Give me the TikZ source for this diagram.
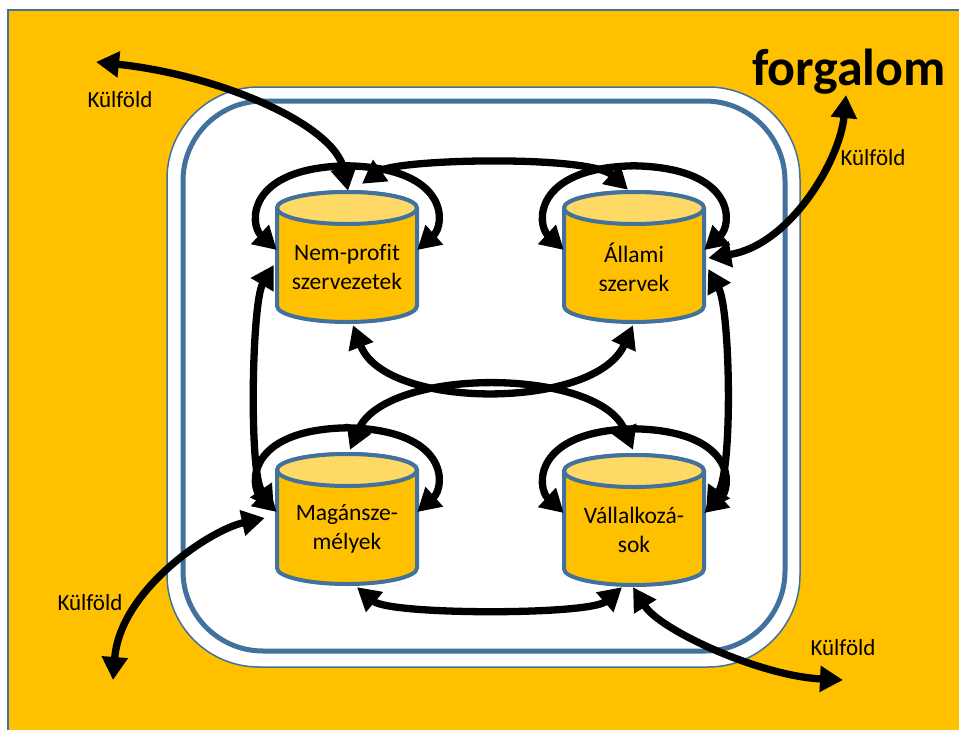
\documentclass[tikz,border=0pt]{standalone}
\usepackage{fontspec}
\setmainfont{Carlito}[Ligatures={NoCommon}]
\usetikzlibrary{arrows.meta,calc}
\definecolor{gold}{HTML}{FFC000}
\definecolor{lightgold}{HTML}{FFD966}
\definecolor{steel}{HTML}{41719C}
\tikzset{
  flow/.style={line width=7.3pt, black, {Triangle[length=23pt,width=25pt]}-{Triangle[length=23pt,width=25pt]}},
  cylbox/.style={minimum width=140pt, minimum height=130pt, inner sep=0pt, draw=none},
  cyltext/.style={align=center, font=\fontsize{23.5}{29}\selectfont, text=black},
  ktext/.style={font=\fontsize{23}{27}\selectfont, text=black, anchor=base},
  cylshape/.style={fill=gold, draw=steel, line width=4pt, line join=round},
  cyltop/.style={fill=lightgold, draw=steel, line width=4pt},
}
\newcommand\mycyl[4]{%
  \path[cylshape] (#1-70,#2-49) -- (#1-70,#2+49)
     arc[start angle=180,end angle=360,x radius=70pt,y radius=16pt]
     -- (#1+70,#2-49)
     arc[start angle=0,end angle=180,x radius=70pt,y radius=16pt] -- cycle;
  \path[cyltop] (#1,#2-49) ellipse[x radius=70pt,y radius=16pt];
  \node[cylbox] (#3) at (#1,#2) {};
  \node[cyltext] (#3t) at (#1,#2+10) {#4};
}
\newcommand\selfloop[1]{%
  \draw[flow] ($(#1.west)+(0,-7)$) .. controls +(-27,-25) and +(-102,2) ..
     ($(#1.north)+(0,-26)$) .. controls +(103,2) and +(28,-25) ..
     ($(#1.east)+(0,-7)$);
}
\begin{document}
\begin{tikzpicture}[x=1pt,y=-1pt]
\useasboundingbox (0,0) rectangle (959,729);
\clip (0,0) rectangle (959,729);
\fill[white] (0,0) rectangle (959,729);
% frame
\path[fill=gold, draw=steel, line width=1.5pt] (8,10) rectangle (975,745);
\path[fill=white, draw=steel, line width=1.5pt, rounded corners=92pt] (167,87) rectangle (800,667);
\path[draw=steel, line width=5pt, rounded corners=80pt] (183,101) rectangle (785,651);
% cylinders
\mycyl{347}{257}{np}{Nem-profit\\szervezetek}
\mycyl{634}{257}{al}{Állami\\szervek}
\mycyl{347}{519}{ma}{Magánsze-\\mélyek}
\mycyl{634}{520}{va}{Vállalkozá-\\sok}
% texts
\node[anchor=base, font=\bfseries\fontsize{52}{60}\selectfont] (title) at (849,85) {forgalom};
\node[ktext] (kTL) at (120,107) {Külföld};
\node[ktext] (kTR) at (873,165) {Külföld};
\node[ktext] (kBL) at (90,610) {Külföld};
\node[ktext] (kBR) at (843,655) {Külföld};
\coordinate (eTL) at (96,62);
\coordinate (eTR) at (846,95);
\coordinate (eBL) at (113,680);
\coordinate (eBR) at (843,680);
% self loops
\selfloop{np}
\selfloop{al}
\selfloop{ma}
\selfloop{va}
% connections between sectors
\draw[flow] ($(np.north)+(15,-8)$) .. controls +(35,-25) and +(-38,-35) .. ($(al.north)+(-6,-2)$);
\draw[flow] ($(np.west)+(-3,8)$) .. controls +(-22,37) and +(-25,-37) .. ($(ma.west)+(-3,-10)$);
\draw[flow] ($(al.east)+(4,12)$) .. controls +(22,40) and +(27,-40) .. ($(va.east)+(2,-10)$);
\draw[flow] ($(np.south)+(6,3)$) .. controls +(32,85) and +(-38,85) .. ($(al.south)+(-1,3)$);
\draw[flow] ($(ma.north)+(3,-4)$) .. controls +(35,-83) and +(-35,-83) .. ($(va.north)+(-1,-5)$);
\draw[flow] ($(ma.south)+(10,3)$) .. controls +(33,28) and +(-32,28) .. ($(va.south)+(-12,2)$);
% foreign connections
\draw[flow] (eTL) .. controls +(124,13) and +(-13,-66) .. ($(np.north)+(1,-1)$);
\draw[flow] ($(al.east)+(4,1)$) .. controls +(82,-13) and +(-6,65) .. (eTR);
\draw[flow] ($(ma.west)+(-12,-1)$) .. controls +(-55,12) and +(7,-90) .. (eBL);
\draw[flow] ($(va.south)+(-1,2)$) .. controls +(27,43) and +(-83,-4) .. (eBR);
\end{tikzpicture}
\end{document}
